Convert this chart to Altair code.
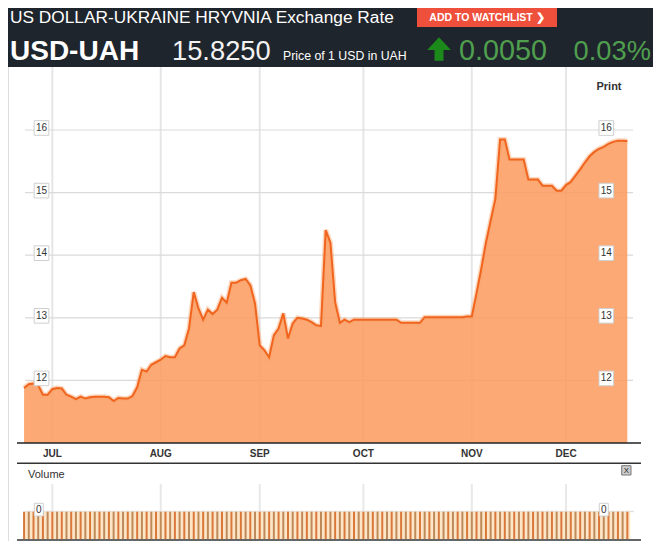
import altair as alt
import pandas as pd

# ---------------- data ----------------
dates = pd.bdate_range("2014-06-23", "2014-12-18")  # trading days shown on the chart
prices = [
    11.88, 11.94, 11.95, 11.92, 11.77, 11.77, 11.86, 11.88, 11.87, 11.77,
    11.74, 11.70, 11.74, 11.71, 11.73, 11.74, 11.74, 11.74, 11.73, 11.67,
    11.72, 11.71, 11.71, 11.75, 11.89, 12.17, 12.14, 12.25, 12.29, 12.33,
    12.39, 12.37, 12.37, 12.51, 12.56, 12.83, 13.41, 13.15, 12.97, 13.13,
    13.06, 13.13, 13.32, 13.24, 13.56, 13.56, 13.60, 13.62, 13.52, 13.23,
    12.56, 12.48, 12.37, 12.72, 12.83, 13.07, 12.67, 12.91, 13.00, 12.99,
    12.97, 12.93, 12.88, 12.87, 14.40, 14.20, 13.25, 12.92, 12.97, 12.93,
    12.97, 12.97, 12.97, 12.97, 12.97, 12.97, 12.97, 12.97, 12.97, 12.97,
    12.92, 12.92, 12.92, 12.92, 12.92, 13.01, 13.01, 13.01, 13.01, 13.01,
    13.01, 13.01, 13.01, 13.01, 13.02, 13.02, 13.39, 13.78, 14.20, 14.55,
    14.90, 15.85, 15.85, 15.53, 15.53, 15.53, 15.53, 15.21, 15.21, 15.21,
    15.11, 15.11, 15.11, 15.03, 15.03, 15.12, 15.17, 15.27, 15.37, 15.48,
    15.58, 15.65, 15.70, 15.73, 15.78, 15.81, 15.83, 15.83, 15.825,
]
month_labels = ["JUL", "AUG", "SEP", "OCT", "NOV", "DEC"]
month_starts = ["2014-07-01", "2014-08-01", "2014-09-01", "2014-10-01", "2014-11-03", "2014-12-01"]
y_ticks = [12, 13, 14, 15, 16]
volume_ticks = ["0"]

title_text = "US DOLLAR-UKRAINE HRYVNIA Exchange Rate"
button_text = "ADD TO WATCHLIST \u276F"
symbol_text = "USD-UAH"
price_text = "15.8250"
price_note = "Price of 1 USD in UAH"
change_text = "0.0050"
change_pct = "0.03%"

# ---------------- tables ----------------
date_str = list(dates.strftime("%Y-%m-%d"))
df = pd.DataFrame({"i": range(len(date_str)), "date": date_str, "price": prices})
pos = {d: k for k, d in enumerate(date_str)}
mdf = pd.DataFrame({"i": [pos[d] for d in month_starts], "label": month_labels})
tdf = pd.DataFrame({"v": y_ticks, "label": [str(t) for t in y_ticks]})
vdf = pd.DataFrame({"label": volume_ticks})
one = pd.DataFrame({"k": [0]})

FONT = "Liberation Sans"
W, H = 645, 533
xs = alt.Scale(domain=[-1.5, 130.9], range=[9, 633], nice=False, zero=False)
ys = alt.Scale(domain=[11, 16], range=[435, 122], nice=False, zero=False)
XI = alt.X("i:Q", scale=xs, axis=None)


def rect(x1, x2, y1, y2, fill, stroke=None, sw=0):
    kw = dict(fill=fill, strokeWidth=sw)
    if stroke:
        kw["stroke"] = stroke
    return alt.Chart(one).mark_rect(**kw).encode(
        x=alt.value(x1), x2=alt.value(x2), y=alt.value(y1), y2=alt.value(y2))


def txt(s, x, y, size, color, weight="normal", align="left", baseline="alphabetic"):
    return alt.Chart(one).mark_text(
        fontSize=size, color=color, fontWeight=weight, align=align,
        baseline=baseline, font=FONT).encode(
        x=alt.value(x), y=alt.value(y), text=alt.value(s))


def hrule(x1, x2, y, color, sw):
    return alt.Chart(one).mark_rule(color=color, strokeWidth=sw).encode(
        x=alt.value(x1), x2=alt.value(x2), y=alt.value(y))


layers = []

# ---------------- header ----------------
layers.append(rect(0, W, 0, 59, "#1f252c"))
layers.append(txt(title_text, 2, 14.5, 17.3, "#ffffff"))
layers.append(rect(409, 549, 0, 19, "#ef503c"))
layers.append(txt(button_text, 479, 12.5, 10.5, "#ffffff", weight="bold", align="center"))
layers.append(txt(symbol_text, 2, 52, 28, "#ffffff", weight="bold"))
layers.append(txt(price_text, 164, 52, 27.3, "#f2f2f2"))
layers.append(txt(price_note, 275, 52, 12.3, "#ffffff"))
arrow = "M0,-1 L1,0.08 L0.38,0.08 L0.38,1 L-0.38,1 L-0.38,0.08 L-1,0.08 Z"
layers.append(alt.Chart(one).mark_point(shape=arrow, filled=True, fill="#1b8a1b",
                                         strokeWidth=0, size=560, opacity=1).encode(
    x=alt.value(431), y=alt.value(41)))
layers.append(txt(change_text, 451, 52, 28.8, "#4f9f4f"))
layers.append(txt(change_pct, 643, 52, 27.3, "#4f9f4f", align="right"))

# ---------------- price panel ----------------
layers.append(alt.Chart(mdf).mark_rule(color="#e6e6e6", strokeWidth=2).encode(
    x=XI, y=alt.value(59), y2=alt.value(435)))
layers.append(alt.Chart(tdf).mark_rule(color="#dadada", strokeWidth=1.2).encode(
    y=alt.Y("v:Q", scale=ys, axis=None), x=alt.value(17), x2=alt.value(625)))
layers.append(alt.Chart(df).mark_area(color="#fb9c61", fillOpacity=0.87).encode(
    x=XI, y=alt.Y("price:Q", scale=ys, axis=None), y2=alt.datum(11)))
layers.append(alt.Chart(df).mark_line(color="#f8a56c", strokeWidth=5, opacity=0.45).encode(
    x=XI, y=alt.Y("price:Q", scale=ys, axis=None)))
layers.append(alt.Chart(df).mark_line(color="#f0641e", strokeWidth=2).encode(
    x=XI, y=alt.Y("price:Q", scale=ys, axis=None)))
for bx in (33.5, 598.3):
    layers.append(alt.Chart(tdf).mark_square(size=215, fill="#ffffff", stroke="#cfcfcf",
                                             strokeWidth=1, opacity=1).encode(
        y=alt.Y("v:Q", scale=ys, axis=None), x=alt.value(bx), yOffset=alt.value(-2)))
    layers.append(alt.Chart(tdf).mark_text(fontSize=10, color="#333333", font=FONT,
                                           baseline="middle", align="center", dy=-2).encode(
        y=alt.Y("v:Q", scale=ys, axis=None), x=alt.value(bx), text="label:N"))
layers.append(alt.Chart(one).mark_rule(color="#222222", strokeWidth=1.5).encode(
    x=alt.value(9), x2=alt.value(633), y=alt.Y(datum=11, scale=ys, axis=None)))
layers.append(alt.Chart(mdf).mark_text(fontSize=10, fontWeight="bold", color="#333333",
                                       font=FONT, align="center").encode(
    x=XI, y=alt.value(446), text="label:N"))
layers.append(txt("Print", 601, 82, 11, "#333333", weight="bold", align="center"))

# ---------------- volume panel ----------------
layers.append(hrule(9, 633, 455.3, "#333333", 1.5))
layers.append(txt("Volume", 20, 470, 11, "#333333"))
layers.append(rect(613.7, 623, 457.7, 467, "#cccccc", stroke="#777777", sw=1))
layers.append(txt("X", 618.4, 462.6, 8, "#222222", align="center", baseline="middle"))
layers.append(alt.Chart(mdf).mark_rule(color="#e8e8e8", strokeWidth=2).encode(
    x=XI, y=alt.value(476), y2=alt.value(503)))
layers.append(hrule(17, 626, 503.5, "#e2e2e2", 1.5))
layers.append(alt.Chart(one).mark_rect(fill="#fde6c8").encode(
    x=alt.X(datum=0, scale=xs, axis=None), x2=alt.datum(128.6),
    y=alt.value(503.7), y2=alt.value(531)))
layers.append(alt.Chart(df).mark_rule(strokeWidth=2).encode(
    x=XI, y=alt.value(503.7), y2=alt.value(531),
    color=alt.condition("datum.i % 2 == 0", alt.value("#d9783a"), alt.value("#bf8a5a"))))
for bx1, bx2 in ((26.3, 35.3), (591.3, 600.3)):
    layers.append(rect(bx1, bx2, 495.3, 508, "#ffffff", stroke="#d0d0d0", sw=1))
    layers.append(alt.Chart(vdf).mark_text(fontSize=10, color="#333333", font=FONT,
                                           align="center", baseline="middle").encode(
        x=alt.value((bx1 + bx2) / 2), y=alt.value(501.7), text="label:N"))
layers.append(hrule(9, 633, 532, "#333333", 1.5))

chart = alt.layer(*layers).properties(
    width=W, height=H, padding=0,
    autosize=alt.AutoSizeParams(type="none"),
).configure_view(stroke=None).configure(background="#ffffff")

chart.save("out.html", embed_options={"renderer": "svg", "actions": False})
